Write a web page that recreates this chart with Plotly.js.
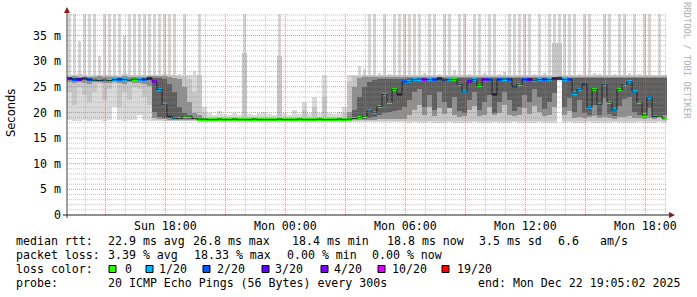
<!DOCTYPE html>
<html><head><meta charset="utf-8">
<script src="https://cdn.plot.ly/plotly-3.0.1.min.js"></script>
<style>html,body{margin:0;padding:0;background:#fff;}#chart{width:697px;height:297px;}</style>
</head><body><div id="chart"></div>
<script>
// ---- sampling grid: 15-minute bins starting Sun Dec 21 2025 13:05 ----
const startUTC = Date.UTC(2025, 11, 21, 13, 5, 0);
const binMinutes = 15;

// ---- smoke (ms) per bin: outermost to innermost bands ----
const smokeMax = [
  40,40,34,40,40,40,31,40,40,40,40,35,40,40,40,40,40,
  40,40,40,40,40,27.5,40,27.4,28,
  40,21,19.8,19.6,20.3,19.7,19.6,19.8,19.5,40,19.7,19.6,19.8,20.0,19.7,19.6,40,19.8,19.6,20.5,19.7,22.0,19.8,23.0,19.9,27.4,19.8,19.7,20.0,21.0,
  27.4,27.3,29,28.5,40,40,27.6,40,27.5,40,40,40,
  40,40,40,27.6,40,40,27.5,40,40,28.3,40,40,27.5,40,40,27.6,40,40,27.5,27.8,40,40,40,40,40,27.5,40,27.6,40,40,40,40,40,
  40,27.5,40,40,27.6,27.5,40,40,27.5,40,40,27.6,40,27.5,40,40,27.4,40,27.3
];
const smokeMin = [
  18.5,18.4,18.4,18.5,18.4,18.5,18.6,18.4,18.5,21.0,18.5,18.4,18.6,18.5,19.5,18.5,18.4,
  18.4,18.3,18.3,18.3,18.3,18.3,18.3,18.3,18.3,
  18.2,18.2,18.2,18.2,18.2,18.2,18.2,18.2,18.2,18.2,18.2,18.2,18.2,18.2,18.2,18.2,18.2,18.2,18.2,18.2,18.2,18.2,18.2,18.2,18.2,18.2,18.2,18.2,18.2,18.2,
  18.2,18.2,18.2,18.2,18.2,18.2,18.2,18.2,18.2,18.2,18.2,18.2,
  18.0,18.1,17.9,18.0,18.1,18.0,17.9,18.0,18.1,18.0,17.9,18.0,18.0,18.1,17.9,18.0,18.0,18.1,18.0,17.9,18.0,18.1,18.0,18.0,17.9,18.0,18.1,18.0,17.9,18.0,26.2,18.0,18.1,
  18.0,17.9,18.0,18.1,18.0,17.9,18.0,18.0,18.1,18.0,17.9,18.0,18.0,18.1,17.9,18.0,18.0,18.1,18.0
];
const band2Lo = [
  24.0,21.5,25.0,23.5,22.0,24.0,25.5,22.5,24.5,25.5,21.0,24.0,22.5,25.0,24.5,23.0,21.5,
  18.5,18.5,18.4,18.4,18.4,18.4,18.4,18.4,18.4,
  18.35,18.35,18.35,18.35,18.35,18.35,18.35,18.35,18.35,18.35,18.35,18.35,18.35,18.35,18.35,18.35,18.35,18.35,18.35,18.35,18.35,18.35,18.35,18.35,18.35,18.35,18.35,18.35,18.35,18.35,
  18.3,18.3,18.3,18.3,18.3,18.3,18.3,18.3,18.3,18.3,18.3,18.3,
  18.4,18.4,18.4,18.4,18.4,18.4,18.4,18.4,18.4,18.4,18.4,18.4,18.4,18.4,18.4,18.4,18.4,18.4,18.4,18.4,18.4,18.4,18.4,18.4,18.4,18.4,18.4,18.4,18.4,18.4,26.3,18.4,18.4,
  18.4,18.4,18.4,18.4,18.4,18.4,18.4,18.4,18.4,18.4,18.4,18.4,18.4,18.4,18.4,18.4,18.4,18.4,18.4
];
const band2Hi = [
  27.4,27.3,27.5,27.3,27.2,27.3,27.4,27.3,27.4,27.3,27.2,27.5,27.3,27.3,27.4,27.3,27.4,
  27.4,27.4,27.5,27.3,27.3,27.2,27.0,26.5,24.0,
  27.3,19.8,19.2,19.2,19.2,19.2,19.2,19.2,19.2,31.6,19.2,19.2,19.2,19.2,19.2,19.2,31.0,19.2,19.2,19.2,19.2,20.5,19.2,21.0,19.2,23.0,19.2,19.2,19.2,19.8,
  26.0,27.1,27.2,27.3,27.3,27.3,27.3,27.3,27.3,27.3,27.3,27.3,
  27.3,27.3,27.3,27.3,27.3,27.3,27.3,27.3,27.3,27.3,27.3,27.3,27.3,27.3,27.3,27.3,27.3,27.3,27.3,27.3,27.3,27.3,27.3,27.3,27.3,27.3,27.3,27.3,27.3,33.5,33.5,27.3,27.3,
  27.3,27.3,27.3,27.3,27.3,27.3,27.3,27.3,27.3,27.3,27.3,27.3,27.3,27.3,27.3,27.3,27.3,27.3,27.3
];
const band3Lo = [
  25.9,25.7,26.0,25.8,25.6,25.9,26.0,25.8,25.7,25.9,25.8,25.6,25.9,25.8,25.7,25.6,25.2,
  19.0,18.8,18.7,18.6,18.6,18.6,18.6,18.6,18.5,
  18.45,18.45,18.45,18.45,18.45,18.45,18.45,18.45,18.45,18.45,18.45,18.45,18.45,18.45,18.45,18.45,18.45,18.45,18.45,18.45,18.45,18.45,18.45,18.45,18.45,18.45,18.45,18.45,18.45,18.45,
  18.4,18.5,18.5,18.5,18.6,18.6,18.7,18.7,18.7,18.7,18.7,18.7,
  19.5,20.5,21.5,19.6,21.0,19.3,20.8,19.7,21.5,19.5,19.2,19.4,20.5,21.2,19.3,19.6,21.0,19.5,19.8,21.5,19.6,19.3,19.5,20.8,19.7,21.3,20.0,19.4,19.6,21.0,26.4,19.5,20.2,
  19.0,19.2,18.9,19.1,19.3,18.9,19.2,19.0,18.8,19.1,19.2,19.4,19.0,18.9,18.8,19.0,18.8,18.9,18.9
];
const band3Hi = [
  27.0,27.1,27.0,26.9,27.0,27.0,27.1,27.0,26.9,27.0,27.0,27.1,27.0,26.9,27.0,27.0,27.1,
  27.2,27.2,27.2,27.0,26.8,26.5,25.0,22.0,19.8,
  19.5,19.0,18.95,18.95,18.95,18.95,18.95,18.95,18.95,18.95,18.95,18.95,18.95,18.95,18.95,18.95,18.95,18.95,18.95,18.95,18.95,18.95,18.95,18.95,18.95,18.95,18.95,18.95,18.95,18.95,
  20.0,25.0,26.8,27.0,27.0,27.0,27.0,27.0,27.0,27.0,27.0,27.0,
  27.0,27.0,27.0,27.0,27.0,27.0,27.0,27.0,27.0,27.0,27.0,27.0,27.0,27.0,27.0,27.0,27.0,27.0,27.0,27.0,27.0,27.0,27.0,27.0,27.0,27.0,27.0,27.0,27.0,27.0,27.2,27.0,27.0,
  27.0,27.0,27.0,27.0,27.0,27.0,27.0,27.0,27.0,27.0,27.0,27.0,27.0,27.0,27.0,27.0,27.0,27.0,27.0
];
const band4Lo = [
  0,0,0,0,0,0,0,0,0,0,0,0,0,0,0,0,0,
  20.0,19.2,19.0,18.9,18.8,18.8,18.8,18.8,18.6,
  0,0,0,0,0,0,0,0,0,0,0,0,0,0,0,0,0,0,0,0,0,0,0,0,0,0,0,0,0,0,
  18.5,18.6,18.7,18.8,19.0,19.2,19.5,19.8,20.0,20.3,20.5,21.0,
  22.5,24.0,24.5,21.0,23.5,20.5,24.0,22.0,20.8,23.0,20.2,19.8,22.5,24.0,20.5,22.0,23.5,19.8,22.0,24.0,22.5,20.3,21.0,23.5,22.0,24.5,23.0,20.6,22.0,23.8,26.5,21.0,22.8,
  20.0,22.5,19.8,19.5,21.5,19.6,22.8,19.7,19.4,21.2,22.6,23.0,20.0,19.6,19.3,20.8,19.4,19.5,19.6
];
const band4Hi = [
  0,0,0,0,0,0,0,0,0,0,0,0,0,0,0,0,0,
  26.8,26.8,26.5,25.5,24.0,21.0,19.8,19.5,19.0,
  0,0,0,0,0,0,0,0,0,0,0,0,0,0,0,0,0,0,0,0,0,0,0,0,0,0,0,0,0,0,
  19.0,20.5,23.0,25.0,26.0,26.3,26.5,26.6,26.6,26.6,26.6,26.6,
  26.7,26.7,26.7,26.7,26.7,26.7,26.7,26.7,26.7,26.7,26.7,26.7,26.7,26.7,26.7,26.7,26.7,26.7,26.7,26.7,26.7,26.7,26.7,26.7,26.7,26.7,26.7,26.7,26.7,26.7,27.0,26.7,26.7,
  26.7,26.7,26.7,26.7,26.7,26.7,26.7,26.7,26.7,26.7,26.7,26.7,26.7,26.7,26.7,26.7,26.7,26.7,26.7
];
// ---- median rtt (ms) and packet loss (of 20) per bin ----
const medianRtt = [
  26.6,26.5,26.5,26.6,26.4,26.3,26.2,26.3,26.2,26.4,26.5,26.4,26.3,26.5,26.4,26.5,26.6,
  26.0,24.5,21.5,19.2,18.9,18.8,19.3,19.3,18.8,
  18.7,18.7,18.6,18.6,18.7,18.6,18.6,18.7,18.6,18.6,18.6,18.7,18.6,18.6,18.6,18.6,18.7,18.6,18.6,18.6,18.7,18.6,18.6,18.6,18.7,18.6,18.6,18.6,18.7,18.6,
  18.7,18.8,19.0,19.3,20.3,20.0,21.2,23.5,22.0,24.5,23.5,26.0,
  26.0,26.4,26.5,26.5,26.4,26.4,26.6,26.3,26.4,26.4,25.5,24.0,26.0,26.4,25.3,26.5,26.4,23.5,26.4,26.5,26.5,25.0,25.5,26.4,26.5,26.3,26.4,26.5,26.4,26.6,26.6,26.4,26.4,
  23.8,24.5,25.5,21.0,24.5,21.5,25.5,22.0,20.5,24.5,25.5,26.0,24.0,22.0,19.5,23.0,19.2,19.3,18.9
];
const lossCount = [
  3,2,3,2,2,1,1,1,0,1,2,1,1,0,1,2,3,
  4,1,1,2,1,0,0,0,0,
  0,0,0,0,0,0,0,0,0,0,0,0,0,0,0,0,0,0,0,0,0,0,0,0,0,0,0,0,0,0,
  0,0,0,0,1,1,0,1,0,0,3,2,
  1,1,1,4,1,2,3,2,1,0,1,1,3,1,0,4,2,3,2,1,2,2,0,2,3,1,1,2,1,3,4,1,2,
  1,1,2,1,0,1,1,0,1,0,1,1,1,0,0,1,1,0,0
];

// ---- legend / axis text ----
const lossLevels = [0, 1, 2, 3, 4, 10, 19];
const lossLabels = ['0', '1/20', '2/20', '3/20', '4/20', '10/20', '19/20'];
const lossColors = ['#26ff00', '#00b8ff', '#0059ff', '#5e00ff', '#7e00ff', '#dd00ff', '#ff0000'];
const yTickVals = [0, 5, 10, 15, 20, 25, 30, 35];
const yTickText = ['0', '5 m', '10 m', '15 m', '20 m', '25 m', '30 m', '35 m'];
const xTickVals = ['2025-12-21 18:00', '2025-12-22 00:00', '2025-12-22 06:00', '2025-12-22 12:00', '2025-12-22 18:00'];
const xTickText = ['Sun 18:00', 'Mon 00:00', 'Mon 06:00', 'Mon 12:00', 'Mon 18:00'];
const statRows = [
  [['median rtt:', 16], ['22.9 ms avg', 108], ['26.8 ms max', 193], ['18.4 ms min', 292], ['18.8 ms now', 387], ['3.5 ms sd', 479], ['6.6', 558], ['am/s', 600]],
  [['packet loss:', 16], ['3.39 % avg', 108], ['18.33 % max', 194], ['0.00 % min', 287], ['0.00 % now', 372]],
  [['loss color:', 16]],
  [['probe:', 16], ['20 ICMP Echo Pings (56 Bytes) every 300s', 108], ['end: Mon Dec 22 19:05:02 2025', 478]]
];
const lossSwatchX = [109, 146, 203, 262, 321, 378, 442];
const lossLabelX = [125, 159, 217, 275, 334, 392, 457];

// ---- build ----
const pad2 = n => String(n).padStart(2, '0');
const fmt = ms => { const d = new Date(ms); return d.getUTCFullYear() + '-' + pad2(d.getUTCMonth() + 1) + '-' + pad2(d.getUTCDate()) + ' ' + pad2(d.getUTCHours()) + ':' + pad2(d.getUTCMinutes()) + ':' + pad2(d.getUTCSeconds()); };
const binMs = binMinutes * 60000;
const times = medianRtt.map((_, i) => fmt(startUTC + (i + 0.5) * binMs));
const endUTC = startUTC + medianRtt.length * binMs;
const bulkTop = 27.4; // top of the dense smoke; spikes above are drawn as thinner streaks

function band(lo, hi, color, widthFrac) {
  return { type: 'bar', x: times, base: lo, y: hi.map((h, i) => Math.max(0, h - lo[i])), width: binMs * (widthFrac || 1),
    marker: { color: color, line: { width: 0 } }, hoverinfo: 'skip', showlegend: false };
}
const colorOfLoss = l => lossColors[lossLevels.indexOf(l)];
const spikeLo = smokeMax.map(() => bulkTop);
const data = [
  band(smokeMin, smokeMax.map(v => Math.min(v, bulkTop)), '#dadada'),
  band(spikeLo, smokeMax, '#d6d6d6', 0.72),
  band(band2Lo, band2Hi, '#c6c6c6'),
  band(band3Lo, band3Hi, '#8f8f8f'),
  band(band4Lo, band4Hi, '#5e5e5e'),
  { type: 'scatter', mode: 'lines', x: times, y: medianRtt, line: { color: '#202020', width: 1, shape: 'hvh' }, hoverinfo: 'skip', showlegend: false },
  { type: 'bar', x: times, base: medianRtt.map(v => v - 0.3), y: medianRtt.map(() => 0.6), width: binMs,
    marker: { color: lossCount.map(colorOfLoss), line: { width: 0 } }, hoverinfo: 'skip', showlegend: false }
];

// pixel -> paper helpers (plot area: x 67..667, y 14..215)
const PL = 67, PW = 600, PB = 215, PH = 201;
const px = x => (x - PL) / PW;
const py = y => (PB - y) / PH;

const shapes = [];
const minorGrid = 'rgba(150,150,150,0.55)', majorGrid = 'rgba(230,90,90,0.7)';
for (let v = 1; v <= 39; v++) {
  shapes.push({ type: 'line', layer: 'above', xref: 'paper', yref: 'y', x0: 0, x1: 1, y0: v, y1: v,
    line: { color: v % 5 === 0 ? majorGrid : minorGrid, width: 1, dash: '1px,1px' } });
}
for (let t = Date.UTC(2025, 11, 21, 14); t < endUTC; t += 3600000) {
  const h = new Date(t).getUTCHours();
  shapes.push({ type: 'line', layer: 'above', xref: 'x', yref: 'paper', x0: fmt(t), x1: fmt(t), y0: 0, y1: 1,
    line: { color: h % 3 === 0 ? majorGrid : minorGrid, width: 1, dash: '1px,1px' } });
}
// axes + arrows
shapes.push({ type: 'line', layer: 'above', xref: 'paper', yref: 'paper', x0: px(67), x1: px(67), y0: py(218), y1: py(12), line: { color: '#404040', width: 1 } });
shapes.push({ type: 'line', layer: 'above', xref: 'paper', yref: 'paper', x0: px(63), x1: px(670), y0: py(215), y1: py(215), line: { color: '#202020', width: 1 } });
shapes.push({ type: 'path', layer: 'above', xref: 'paper', yref: 'paper',
  path: `M${px(64)},${py(13)} L${px(70)},${py(13)} L${px(67)},${py(7)} Z`, fillcolor: '#8e1b1b', line: { width: 0 } });
shapes.push({ type: 'path', layer: 'above', xref: 'paper', yref: 'paper',
  path: `M${px(669)},${py(212)} L${px(669)},${py(218)} L${px(675)},${py(215)} Z`, fillcolor: '#8e1b1b', line: { width: 0 } });
// loss swatches
const rowY = [241, 255, 269, 283];
lossSwatchX.forEach((x, i) => {
  shapes.push({ type: 'rect', layer: 'above', xref: 'paper', yref: 'paper', x0: px(x), x1: px(x + 7), y0: py(rowY[2] - 3.5), y1: py(rowY[2] + 3.5),
    fillcolor: lossColors[i], line: { color: '#000', width: 1 } });
});

const mono = 'DejaVu Sans Mono';
const annotations = [];
statRows.forEach((row, r) => row.forEach(([txt, x]) => {
  annotations.push({ text: txt, xref: 'paper', yref: 'paper', x: px(x - 1), y: py(rowY[r]), xanchor: 'left', yanchor: 'middle',
    showarrow: false, font: { family: mono, size: 11.6, color: '#000' }, borderpad: 0 });
}));
lossLabels.forEach((txt, i) => {
  annotations.push({ text: txt, xref: 'paper', yref: 'paper', x: px(lossLabelX[i] - 1), y: py(rowY[2]), xanchor: 'left', yanchor: 'middle',
    showarrow: false, font: { family: mono, size: 11.6, color: '#000' }, borderpad: 0 });
});
annotations.push({ text: 'Seconds', xref: 'paper', yref: 'paper', x: px(11), y: py(113), xanchor: 'center', yanchor: 'middle', textangle: -90,
  showarrow: false, font: { family: 'DejaVu Sans', size: 11.5, color: '#000' } });
annotations.push({ text: 'RRDTOOL / TOBI OETIKER', xref: 'paper', yref: 'paper', x: px(687), y: py(60), xanchor: 'center', yanchor: 'middle', textangle: 90,
  showarrow: false, font: { family: mono, size: 8.8, color: '#b0b0b0' } });

const layout = {
  width: 697, height: 297, margin: { l: 67, r: 30, t: 14, b: 82, pad: 0 },
  paper_bgcolor: '#ffffff', plot_bgcolor: '#ffffff', barmode: 'overlay', bargap: 0, showlegend: false,
  font: { family: mono, size: 11.6, color: '#000' },
  xaxis: { type: 'date', range: [fmt(startUTC), fmt(endUTC)], tickmode: 'array', tickvals: xTickVals, ticktext: xTickText,
    showgrid: false, zeroline: false, showline: false, ticks: '', ticklabelstandoff: 2, tickfont: { family: mono, size: 11.6, color: '#000' } },
  yaxis: { range: [0, 39.2], tickmode: 'array', tickvals: yTickVals, ticktext: yTickText,
    showgrid: false, zeroline: false, showline: false, ticks: '', ticklabelstandoff: 5, tickfont: { family: mono, size: 11.6, color: '#000' } },
  shapes: shapes, annotations: annotations
};
Plotly.newPlot('chart', data, layout, { staticPlot: true, displayModeBar: false });
</script></body></html>
